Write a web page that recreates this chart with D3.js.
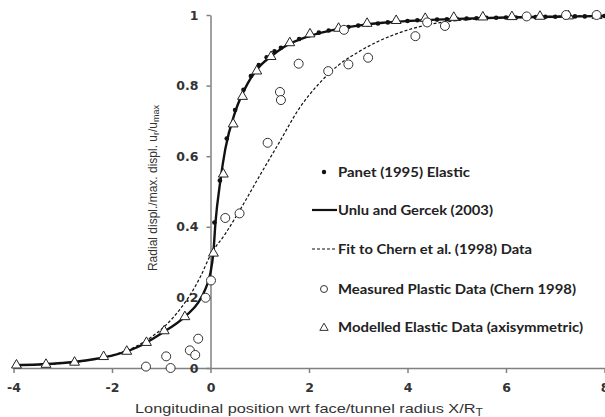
<!DOCTYPE html>
<html>
<head>
<meta charset="utf-8">
<script src="https://cdn.jsdelivr.net/npm/d3@7"></script>
<style>
  html, body { margin: 0; padding: 0; background: #fff; }
  svg { display: block; }
</style>
</head>
<body>
<svg id="chart" width="605" height="417"></svg>
<script>
// ---- data ----
const xTicks = [-4, -2, 0, 2, 4, 6, 8];
const yTicks = [0, 0.2, 0.4, 0.6, 0.8, 1];

// Panet (1995) Elastic - dots
const panetX = [0.08, 0.19, 0.33, 0.5, 0.67, 0.82, 0.98, 1.14, 1.3, 1.43, 1.6, 1.8, 2.0, 2.2, 2.4, 2.6, 2.8, 3.0, 3.2, 3.4, 3.6, 3.8, 4.0, 4.2, 4.4, 4.6, 4.8, 5.0, 5.2, 5.4, 5.6, 5.8, 6.0, 6.2, 6.4, 6.6, 6.8, 7.0, 7.2, 7.4, 7.6, 7.8, 8.0];
const panetY = [0.412, 0.531, 0.650, 0.731, 0.788, 0.827, 0.858, 0.880, 0.897, 0.907, 0.920, 0.932, 0.942, 0.950, 0.956, 0.961, 0.966, 0.970, 0.973, 0.976, 0.979, 0.981, 0.983, 0.985, 0.986, 0.987, 0.988, 0.989, 0.990, 0.991, 0.992, 0.992, 0.993, 0.993, 0.994, 0.994, 0.995, 0.995, 0.995, 0.996, 0.996, 0.996, 0.997];

// Unlu and Gercek (2003) - solid line
const unluX = [-4, -3.5, -3, -2.5, -2, -1.5, -1.0, -0.5, -0.25, -0.1, 0, 0.06, 0.1, 0.2, 0.3, 0.5, 0.75, 1.0, 1.25, 1.5, 2.0, 2.5, 3.0, 3.5, 4.0, 5.0, 6.0, 7.0, 8.0];
const unluY = [0.008, 0.010, 0.014, 0.022, 0.035, 0.058, 0.098, 0.148, 0.185, 0.225, 0.27, 0.33, 0.41, 0.53, 0.62, 0.725, 0.805, 0.855, 0.885, 0.910, 0.940, 0.958, 0.970, 0.978, 0.983, 0.989, 0.993, 0.995, 0.997];

// Fit to Chern et al. (1998) Data - dashed line
const chernX = [-4, -3.5, -3, -2.5, -2, -1.5, -1.2, -0.9, -0.6, -0.4, -0.2, 0, 0.3, 0.6, 1.0, 1.4, 1.8, 2.2, 2.6, 3.0, 3.4, 3.8, 4.4, 5.0, 5.6, 6.5, 8.0];
const chernY = [0.006, 0.009, 0.013, 0.021, 0.036, 0.062, 0.088, 0.122, 0.170, 0.210, 0.260, 0.320, 0.380, 0.448, 0.545, 0.640, 0.735, 0.805, 0.858, 0.895, 0.925, 0.948, 0.972, 0.984, 0.990, 0.995, 0.998];

// Measured Plastic Data (Chern 1998) - open circles
const measX = [-1.31, -0.81, -0.90, -0.42, -0.31, -0.25, -0.10, 0.01, 0.30, 0.59, 1.16, 1.41, 1.43, 1.79, 2.39, 2.80, 3.20, 2.71, 4.16, 4.40, 4.76, 6.42, 7.22, 7.84];
const measY = [0.004, 0.0, 0.033, 0.050, 0.037, 0.083, 0.199, 0.248, 0.425, 0.438, 0.638, 0.782, 0.759, 0.862, 0.841, 0.860, 0.879, 0.958, 0.940, 0.979, 0.969, 0.996, 1.0, 1.0];

// Modelled Elastic Data (axisymmetric) - open triangles
const modX = [-3.94, -3.34, -2.76, -2.17, -1.70, -1.30, -0.94, -0.52, 0.06, 0.26, 0.46, 0.65, 0.94, 1.23, 1.61, 2.02, 2.60, 3.18, 3.77, 4.36, 4.94, 5.53, 6.12, 6.69, 7.27, 7.85];
const modY = [0.008, 0.010, 0.016, 0.032, 0.047, 0.072, 0.105, 0.145, 0.325, 0.549, 0.691, 0.769, 0.841, 0.882, 0.921, 0.946, 0.962, 0.976, 0.984, 0.990, 0.993, 0.994, 0.995, 0.996, 0.997, 0.998];

const legendLabels = [
  "Panet (1995) Elastic",
  "Unlu and Gercek (2003)",
  "Fit to Chern et al. (1998) Data",
  "Measured Plastic Data (Chern 1998)",
  "Modelled Elastic Data (axisymmetric)"
];

// ---- drawing ----
const svg = d3.select("#chart");
const x = d3.scaleLinear().domain([-4, 8]).range([13.5, 604.5]);
const y = d3.scaleLinear().domain([0, 1]).range([368, 15]);

const axisColor = "#808080";
const labelColor = "#333";
const tickFont = "bold 12.5px 'DejaVu Sans', sans-serif";
const zip = (a, b) => a.map((v, i) => [v, b[i]]);

// x axis
const gx = svg.append("g").attr("transform", `translate(0,${y(0)})`)
  .call(d3.axisBottom(x).tickValues(xTicks).tickSize(5).tickSizeOuter(0).tickPadding(10)
    .tickFormat(d => d3.format("d")(d)));
gx.select(".domain").attr("stroke", axisColor).attr("stroke-width", 1.5);
gx.selectAll(".tick line").attr("stroke", axisColor).attr("stroke-width", 1.5);
gx.selectAll(".tick text").attr("fill", labelColor)
  .style("font", tickFont)
  .text(d => d < 0 ? "-" + Math.abs(d) : d);

// y axis
const gy = svg.append("g").attr("transform", `translate(${x(0)},0)`)
  .call(d3.axisLeft(y).tickValues(yTicks).tickSize(4).tickSizeOuter(0).tickPadding(8)
    .tickFormat(d => d === 0 ? "0" : d === 1 ? "1" : d3.format(".1f")(d)));
gy.select(".domain").attr("stroke", axisColor).attr("stroke-width", 1.5);
gy.selectAll(".tick line").attr("stroke", axisColor).attr("stroke-width", 1.5);
gy.selectAll(".tick text").attr("fill", labelColor)
  .style("font", tickFont);

// curves
const line = d3.line().x(d => x(d[0])).y(d => y(d[1])).curve(d3.curveMonotoneX);

svg.append("path").datum(zip(chernX, chernY))
  .attr("d", line).attr("fill", "none").attr("stroke", "#111")
  .attr("stroke-width", 1.2).attr("stroke-dasharray", "3,2");

svg.append("path").datum(zip(unluX, unluY))
  .attr("d", line).attr("fill", "none").attr("stroke", "#111")
  .attr("stroke-width", 2.4);

// panet dots
svg.append("g").selectAll("circle").data(zip(panetX, panetY)).join("circle")
  .attr("cx", d => x(d[0])).attr("cy", d => y(d[1])).attr("r", 2.3).attr("fill", "#111");

// triangles
const tri = d3.symbol().type(d3.symbolTriangle).size(42);
svg.append("g").selectAll("path").data(zip(modX, modY)).join("path")
  .attr("d", tri).attr("transform", d => `translate(${x(d[0])},${y(d[1])})`)
  .attr("fill", "#fff").attr("stroke", "#222").attr("stroke-width", 1);

// measured circles
svg.append("g").selectAll("circle").data(zip(measX, measY)).join("circle")
  .attr("cx", d => x(d[0])).attr("cy", d => y(d[1])).attr("r", 4.5)
  .attr("fill", "#fff").attr("stroke", "#333").attr("stroke-width", 1);

// axis titles
svg.append("text")
  .attr("x", 135).attr("y", 413)
  .attr("textLength", 348).attr("lengthAdjust", "spacingAndGlyphs")
  .attr("fill", labelColor)
  .style("font", "13.5px 'Liberation Sans', Arial, sans-serif")
  .call(t => {
    t.append("tspan").text("Longitudinal position wrt face/tunnel radius X/R");
    t.append("tspan").attr("baseline-shift", "-25%").style("font-size", "10px").text("T");
  });

svg.append("text")
  .attr("transform", "translate(157,188) rotate(-90)")
  .attr("text-anchor", "middle").attr("fill", labelColor)
  .style("font", "12px 'Liberation Sans', Arial, sans-serif")
  .call(t => {
    t.append("tspan").text("Radial displ./max. displ. u");
    t.append("tspan").attr("baseline-shift", "-25%").style("font-size", "9px").text("r");
    t.append("tspan").text("/u");
    t.append("tspan").attr("baseline-shift", "-25%").style("font-size", "9px").text("max");
  });

// legend
const legY = [172, 210, 249, 289, 327];
const legW = [132, 155, 194, 238, 245];
const leg = svg.append("g");
const legFont = "bold 13px Lato, 'Open Sans', sans-serif";
legendLabels.forEach((lab, i) => {
  leg.append("text").attr("x", 338).attr("y", legY[i] + 4.5)
    .attr("textLength", legW[i]).attr("lengthAdjust", "spacingAndGlyphs")
    .attr("fill", "#222").style("font", legFont).text(lab);
});
leg.append("circle").attr("cx", 324).attr("cy", legY[0]).attr("r", 2.2).attr("fill", "#111");
leg.append("line").attr("x1", 312).attr("x2", 337).attr("y1", legY[1]).attr("y2", legY[1])
  .attr("stroke", "#111").attr("stroke-width", 2.2);
leg.append("line").attr("x1", 312).attr("x2", 337).attr("y1", legY[2]).attr("y2", legY[2])
  .attr("stroke", "#111").attr("stroke-width", 1.2).attr("stroke-dasharray", "3,2");
leg.append("circle").attr("cx", 324).attr("cy", legY[3]).attr("r", 3.5)
  .attr("fill", "#fff").attr("stroke", "#333").attr("stroke-width", 1);
leg.append("path").attr("d", d3.symbol().type(d3.symbolTriangle).size(30))
  .attr("transform", `translate(324,${legY[4] + 1})`)
  .attr("fill", "#fff").attr("stroke", "#333").attr("stroke-width", 1);
</script>
</body>
</html>
